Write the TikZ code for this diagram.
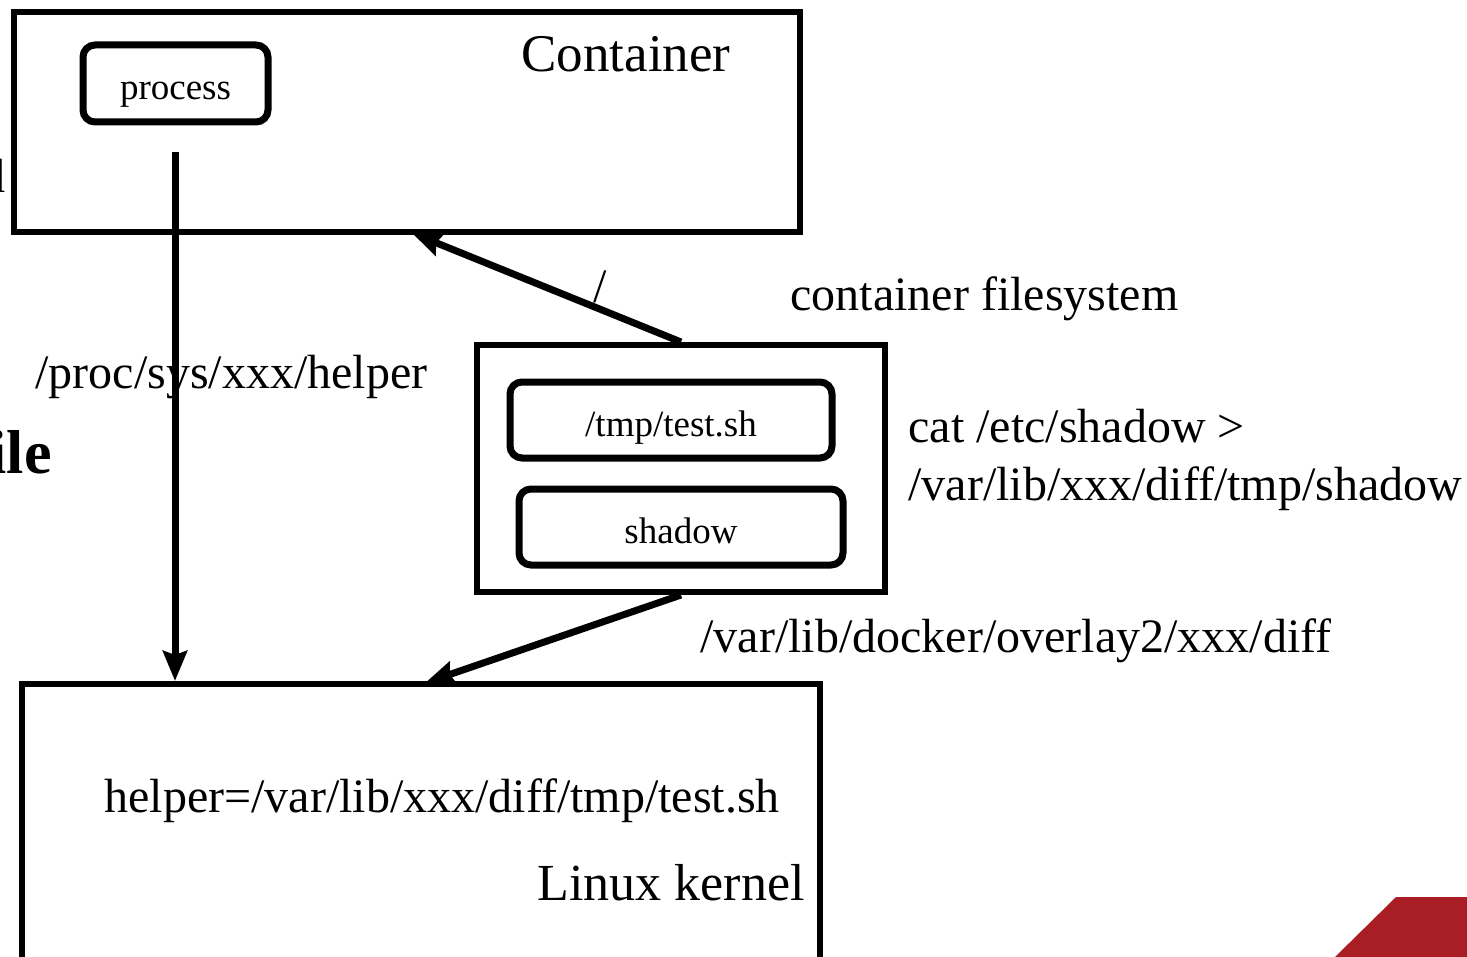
\documentclass[tikz,border=0pt]{standalone}
\usepackage{fontspec}
\setmainfont{Liberation Serif}
\usepackage{tikz}
\usetikzlibrary{arrows.meta,shadows}
\definecolor{slidered}{RGB}{168,30,36}
\tikzset{
  frame/.style={draw,line width=3pt,fill=white,
    drop shadow={opacity=0.25,shadow xshift=1.2pt,shadow yshift=-1.2pt}},
  pill/.style={draw,line width=3.5pt,rounded corners=6pt,fill=white,font=\fontsize{18.5}{22}\selectfont,
    text height=16pt,text depth=0pt,
    drop shadow={opacity=0.25,shadow xshift=1.2pt,shadow yshift=-1.2pt}},
  flow/.style={line width=3.5pt,-{Stealth[length=15pt,width=12pt,inset=2pt]}},
  lbl/.style={font=\fontsize{24}{28}\selectfont,inner sep=0pt},
  ttl/.style={font=\fontsize{26.5}{30}\selectfont,inner sep=0pt}
}
\begin{document}
\begin{tikzpicture}[x=0.5pt,y=-0.5pt]
          \useasboundingbox (0,0) rectangle (1467,957);
          \node[frame,minimum width=393pt,minimum height=110pt] (cont) at (407,122){};
          \node[frame,minimum width=399pt,minimum height=153pt] (kernel) at (421,837){};
          \node[frame,minimum width=204pt,minimum height=123.5pt] (rootfs) at (681,468.5){};
          \node[pill,minimum width=92.5pt,minimum height=38.5pt] (proc) at (175.5,83.5){process};
          \node[pill,minimum width=161pt,minimum height=38pt] (testsh) at (671,420){/tmp/test.sh};
          \node[pill,minimum width=162pt,minimum height=38pt] (shadowf) at (681,527){shadow};
          \node[ttl,anchor=base west] (conttitle) at (521,72){Container};
          \node[ttl,anchor=base west,font=\fontsize{26}{30}\selectfont] (kerneltitle) at (537,900){Linux kernel};
          \node[lbl,anchor=base west] (helperpath) at (35,388){/proc/sys/xxx/helper};
          \node[lbl] (rootlbl) at (600,287){/};
          \node[lbl,anchor=base west] (fslbl) at (790,310){container filesystem};
          \node[lbl,anchor=base west] (catlbl) at (908,442){cat /etc/shadow >};
          \node[lbl,anchor=base west] (catdst) at (908,500){/var/lib/xxx/diff/tmp/shadow};
          \node[lbl,anchor=base west] (difflbl) at (700,652){/var/lib/docker/overlay2/xxx/diff};
          \node[lbl,anchor=base west] (helperval) at (104,812){helper=/var/lib/xxx/diff/tmp/test.sh};
          \node[font=\fontsize{31}{34}\selectfont\bfseries,inner sep=0pt,anchor=base east] (cutfile) at (52,473){ile};
          \node[lbl,anchor=base east] (cutd) at (6,193){d};
          \coordinate (helperstart) at (175,152);
          \coordinate (rootin) at (412,233);
          \coordinate (diffin) at (425,683);
          \draw[flow] (helperstart) -- (helperstart |- kernel.north);
          \draw[flow] (rootfs.north) -- (rootin);
          \draw[flow] (rootfs.south) -- (diffin);
          \fill[slidered] (1335,957) -- (1396,897) -- (1467,897) -- (1467,957) -- cycle;
        \end{tikzpicture}
\end{document}
